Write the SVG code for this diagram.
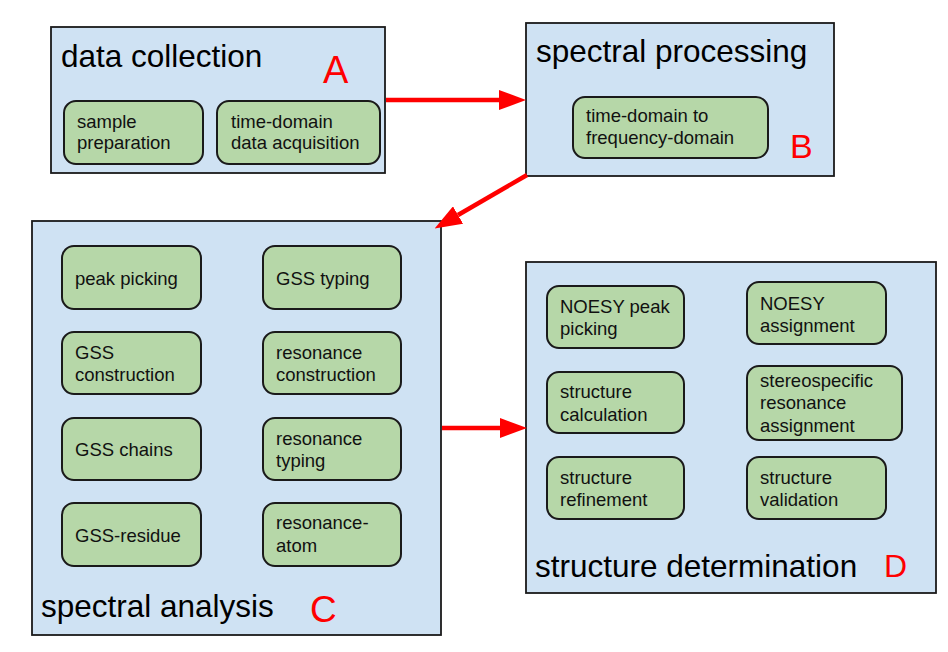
<svg xmlns="http://www.w3.org/2000/svg" width="948" height="652" viewBox="0 0 948 652">
<defs>
<marker id="ah" markerUnits="userSpaceOnUse" markerWidth="27" markerHeight="20" refX="0" refY="10" orient="auto" viewBox="0 0 27 20">
<path d="M0,0 L27,10 L0,20 z" fill="#ff0000"/>
</marker>
</defs>
<style>
.outer{fill:#cfe2f3;stroke:#1a1a1a;stroke-width:1.8}
.inner{fill:#b6d7a8;stroke:#1a1a1a;stroke-width:2}
.title{font-family:"Liberation Sans",Arial,sans-serif;font-size:31.5px;fill:#000}
.lbl{font-family:"Liberation Sans",Arial,sans-serif;font-size:18.5px;fill:#111}
.tag{font-family:"Liberation Sans",Arial,sans-serif;fill:#ff0000}
.conn{stroke:#ff0000;stroke-width:4.5;fill:none;marker-end:url(#ah)}
</style>
<rect width="948" height="652" fill="#ffffff"/>

<g id="nodeA">
<rect class="outer" x="51" y="27" width="334" height="146"/>
<text class="title" x="61" y="67">data collection</text>
<text class="tag" x="323" y="83" font-size="38">A</text>
<rect class="inner" x="64" y="101" width="139" height="63" rx="12"/>
<text class="lbl" x="77" y="128">sample</text>
<text class="lbl" x="77" y="149">preparation</text>
<rect class="inner" x="217" y="101" width="163" height="63" rx="12"/>
<text class="lbl" x="231" y="128">time-domain</text>
<text class="lbl" x="231" y="149">data acquisition</text>
</g>

<g id="nodeB">
<rect class="outer" x="526" y="23" width="308" height="153"/>
<text class="title" x="536" y="62">spectral processing</text>
<text class="tag" x="790" y="158" font-size="34">B</text>
<rect class="inner" x="573" y="97" width="195" height="61" rx="12"/>
<text class="lbl" x="586" y="122">time-domain to</text>
<text class="lbl" x="586" y="144">frequency-domain</text>
</g>

<g id="nodeC">
<rect class="outer" x="32" y="221" width="409" height="414"/>
<text class="title" x="41" y="617">spectral analysis</text>
<text class="tag" x="310" y="622" font-size="37">C</text>
<rect class="inner" x="62" y="246" width="139" height="63" rx="12"/>
<text class="lbl" x="75" y="285">peak picking</text>
<rect class="inner" x="263" y="246" width="138" height="63" rx="12"/>
<text class="lbl" x="276" y="285">GSS typing</text>
<rect class="inner" x="62" y="332" width="139" height="62" rx="12"/>
<text class="lbl" x="75" y="359">GSS</text>
<text class="lbl" x="75" y="381">construction</text>
<rect class="inner" x="263" y="332" width="138" height="62" rx="12"/>
<text class="lbl" x="276" y="359">resonance</text>
<text class="lbl" x="276" y="381">construction</text>
<rect class="inner" x="62" y="418" width="139" height="62" rx="12"/>
<text class="lbl" x="75" y="456">GSS chains</text>
<rect class="inner" x="263" y="418" width="138" height="62" rx="12"/>
<text class="lbl" x="276" y="445">resonance</text>
<text class="lbl" x="276" y="467">typing</text>
<rect class="inner" x="62" y="503" width="139" height="63" rx="12"/>
<text class="lbl" x="75" y="542">GSS-residue</text>
<rect class="inner" x="263" y="503" width="138" height="63" rx="12"/>
<text class="lbl" x="276" y="529">resonance-</text>
<text class="lbl" x="276" y="552">atom</text>
</g>

<g id="nodeD">
<rect class="outer" x="526" y="262" width="410" height="331"/>
<text class="title" x="535" y="577">structure determination</text>
<text class="tag" x="884" y="577" font-size="32">D</text>
<rect class="inner" x="547" y="286" width="137" height="62" rx="12"/>
<text class="lbl" x="560" y="313">NOESY peak</text>
<text class="lbl" x="560" y="335">picking</text>
<rect class="inner" x="747" y="282" width="139" height="62" rx="12"/>
<text class="lbl" x="760" y="310">NOESY</text>
<text class="lbl" x="760" y="332">assignment</text>
<rect class="inner" x="547" y="372" width="137" height="61" rx="12"/>
<text class="lbl" x="560" y="398">structure</text>
<text class="lbl" x="560" y="421">calculation</text>
<rect class="inner" x="747" y="366" width="155" height="74" rx="12"/>
<text class="lbl" x="760" y="387">stereospecific</text>
<text class="lbl" x="760" y="409">resonance</text>
<text class="lbl" x="760" y="432">assignment</text>
<rect class="inner" x="547" y="457" width="137" height="62" rx="12"/>
<text class="lbl" x="560" y="484">structure</text>
<text class="lbl" x="560" y="506">refinement</text>
<rect class="inner" x="747" y="457" width="139" height="62" rx="12"/>
<text class="lbl" x="760" y="484">structure</text>
<text class="lbl" x="760" y="506">validation</text>
</g>

<g id="connectors">
<line class="conn" x1="386" y1="100" x2="499" y2="100"/>
<line class="conn" x1="527" y1="175" x2="458" y2="215"/>
<line class="conn" x1="442" y1="428" x2="500" y2="428"/>
</g>
</svg>
